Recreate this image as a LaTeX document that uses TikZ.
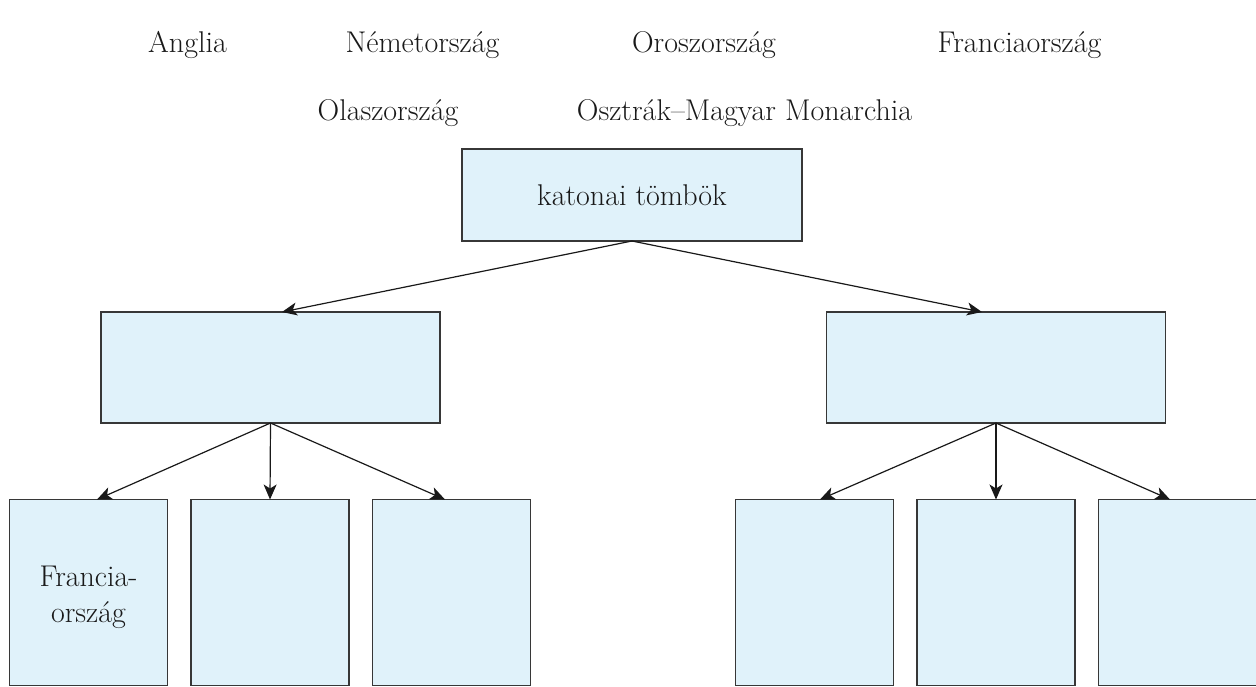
\documentclass[tikz,border=0pt]{standalone}
\usetikzlibrary{arrows.meta}
\definecolor{boxfill}{RGB}{224,242,250}
\definecolor{boxline}{RGB}{55,55,55}
\definecolor{txt}{RGB}{25,25,25}
\begin{document}
\begin{tikzpicture}[x=1pt,y=-1pt,
  box/.style={draw=boxline,fill=boxfill,line width=1.4pt,inner sep=0pt,outer sep=0pt,align=center,text=txt},
  lbl/.style={anchor=base,inner sep=0pt,text=txt},
  arr/.style={draw=black!90,line width=1.2pt,-{Stealth[length=15pt,width=13pt,inset=4pt]}},
  every node/.style={font=\fontsize{30}{36}\selectfont}]
\useasboundingbox (0,0) rectangle (1256,686);
% labels
\node[lbl] (l1) at (187.5,52) {Anglia};
\node[lbl] (l2) at (422.5,52) {Németország};
\node[lbl] (l3) at (704,52) {Oroszország};
\node[lbl] (l4) at (1019.5,52) {Franciaország};
\node[lbl] (l5) at (388,120) {Olaszország};
\node[lbl] (l6) at (744.5,120) {Osztrák–Magyar Monarchia};
% boxes
\node[box,minimum width=340pt,minimum height=92pt] (top) at (632,195) {katonai tömbök};
\node[box,minimum width=339pt,minimum height=111pt] (midL) at (270.5,367.5) {};
\node[box,minimum width=339pt,minimum height=111pt] (midR) at (996,367.5) {};
\node[box,minimum width=158pt,minimum height=186pt] (L1) at (88.5,592.5) {};
\node[align=center,inner sep=0pt,text=txt] (L1t) at ([yshift=-5pt]L1.center) {Francia-\\ország};
\node[box,minimum width=158pt,minimum height=186pt] (L2) at (270,592.5) {};
\node[box,minimum width=158pt,minimum height=186pt] (L3) at (451.5,592.5) {};
\node[box,minimum width=158pt,minimum height=186pt] (R1) at (814.5,592.5) {};
\node[box,minimum width=158pt,minimum height=186pt] (R2) at (996,592.5) {};
\node[box,minimum width=158pt,minimum height=186pt] (R3) at (1177.5,592.5) {};
% arrows
\draw[arr] (top.south) -- ([xshift=11.5pt]midL.north);
\draw[arr] (top.south) -- ([xshift=-14pt]midR.north);
\draw[arr] (midL.south) -- ([xshift=8.5pt]L1.north);
\draw[arr] (midL.south) -- (L2.north);
\draw[arr] (midL.south) -- ([xshift=-6.5pt]L3.north);
\draw[arr] (midR.south) -- ([xshift=5.5pt]R1.north);
\draw[arr] (midR.south) -- (R2.north);
\draw[arr] (midR.south) -- ([xshift=-7.5pt]R3.north);
\end{tikzpicture}
\end{document}
